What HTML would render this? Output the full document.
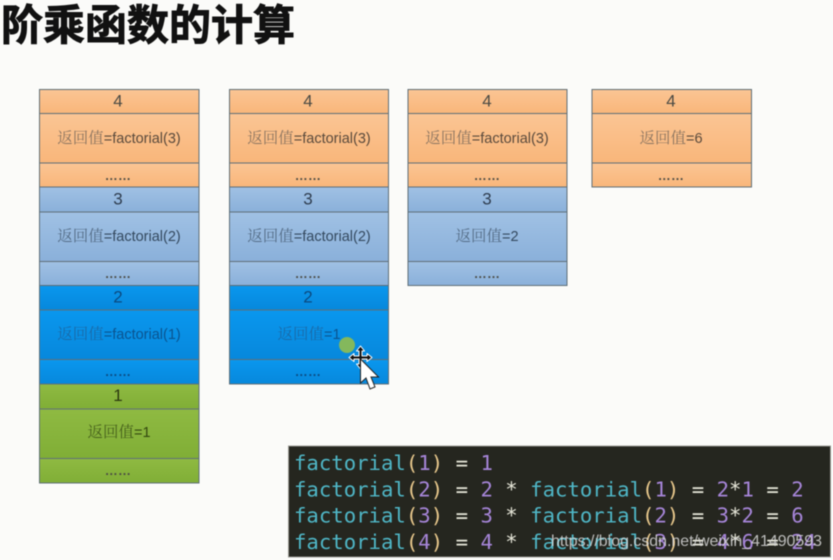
<!DOCTYPE html>
<html><head><meta charset="utf-8"><style>
html,body{margin:0;padding:0;width:833px;height:560px;overflow:hidden;background:#fbfbf9}
svg{display:block;filter:blur(.5px)}
text{font-family:"Liberation Sans","Noto Sans CJK SC",sans-serif}
.l{font-size:14.5px;text-anchor:middle}
.l tspan.z{font-family:"Noto Serif CJK SC",serif;font-size:15.5px}
.n{font-size:17px;text-anchor:middle}
.c{font-family:"DejaVu Sans Mono",monospace;font-size:20.65px;white-space:pre;font-weight:400}
.f{fill:#4fb6c6}.p{fill:#e8c88c}.v{fill:#a685d8}.o{fill:#e6e6d8}
</style></head><body>
<svg width="833" height="560" viewBox="0 0 833 560" xmlns="http://www.w3.org/2000/svg">
<defs>
<linearGradient id="og" x1="0" y1="0" x2="0" y2="1"><stop offset="0" stop-color="#fbc594"/><stop offset="1" stop-color="#f9b67a"/></linearGradient>
<linearGradient id="bl" x1="0" y1="0" x2="0" y2="1"><stop offset="0" stop-color="#a0c1e4"/><stop offset="1" stop-color="#8ab0da"/></linearGradient>
<linearGradient id="az" x1="0" y1="0" x2="0" y2="1"><stop offset="0" stop-color="#0a97ee"/><stop offset="1" stop-color="#0788dc"/></linearGradient>
<linearGradient id="gr" x1="0" y1="0" x2="0" y2="1"><stop offset="0" stop-color="#8fba42"/><stop offset="1" stop-color="#80ae36"/></linearGradient>
</defs>
<rect width="833" height="560" fill="#fbfbf9"/>
<text x="1" y="40" font-size="42" font-weight="700" fill="#111" stroke="#111" stroke-width=".9" style="font-family:'Noto Sans CJK SC',sans-serif">阶乘函数的计算</text>

<g stroke="#5f6f78" stroke-width="1">
<rect x="39.5" y="89.5" width="159.5" height="24" fill="url(#og)"/><rect x="39.5" y="113.5" width="159.5" height="49.5" fill="url(#og)"/><rect x="39.5" y="163" width="159.5" height="24" fill="url(#og)"/>
<rect x="39.5" y="187" width="159.5" height="25" fill="url(#bl)"/><rect x="39.5" y="212" width="159.5" height="49.5" fill="url(#bl)"/><rect x="39.5" y="261.5" width="159.5" height="24" fill="url(#bl)"/>
<rect x="39.5" y="285.5" width="159.5" height="24.5" fill="url(#az)"/><rect x="39.5" y="310" width="159.5" height="49.5" fill="url(#az)"/><rect x="39.5" y="359.5" width="159.5" height="24.5" fill="url(#az)"/>
<rect x="39.5" y="384" width="159.5" height="25" fill="url(#gr)"/><rect x="39.5" y="409" width="159.5" height="49.5" fill="url(#gr)"/><rect x="39.5" y="458.5" width="159.5" height="24.5" fill="url(#gr)"/>
<rect x="229.5" y="89.5" width="159" height="24" fill="url(#og)"/><rect x="229.5" y="113.5" width="159" height="49.5" fill="url(#og)"/><rect x="229.5" y="163" width="159" height="24" fill="url(#og)"/>
<rect x="229.5" y="187" width="159" height="25" fill="url(#bl)"/><rect x="229.5" y="212" width="159" height="49.5" fill="url(#bl)"/><rect x="229.5" y="261.5" width="159" height="24" fill="url(#bl)"/>
<rect x="229.5" y="285.5" width="159" height="24.5" fill="url(#az)"/><rect x="229.5" y="310" width="159" height="49.5" fill="url(#az)"/><rect x="229.5" y="359.5" width="159" height="24.5" fill="url(#az)"/>
<rect x="408" y="89.5" width="159" height="24" fill="url(#og)"/><rect x="408" y="113.5" width="159" height="49.5" fill="url(#og)"/><rect x="408" y="163" width="159" height="24" fill="url(#og)"/>
<rect x="408" y="187" width="159" height="25" fill="url(#bl)"/><rect x="408" y="212" width="159" height="49.5" fill="url(#bl)"/><rect x="408" y="261.5" width="159" height="24" fill="url(#bl)"/>
<rect x="592" y="89.5" width="159.5" height="24" fill="url(#og)"/><rect x="592" y="113.5" width="159.5" height="49.5" fill="url(#og)"/><rect x="592" y="163" width="159.5" height="24" fill="url(#og)"/>
</g>

<g>
<text class="n" x="118" y="106.500" fill="#4a4a44">4</text><text class="n" x="308" y="106.500" fill="#4a4a44">4</text><text class="n" x="487" y="106.500" fill="#4a4a44">4</text><text class="n" x="671" y="106.500" fill="#4a4a44">4</text>
<text class="n" x="118" y="204.500" fill="#2e3c4e">3</text><text class="n" x="308" y="204.500" fill="#2e3c4e">3</text><text class="n" x="487" y="204.500" fill="#2e3c4e">3</text>
<text class="n" x="118" y="302.500" fill="#0b4a80">2</text><text class="n" x="308" y="302.500" fill="#0b4a80">2</text>
<text class="n" x="118" y="401" fill="#2c3a10">1</text>
</g>
<g>
<text class="l" x="119" y="143" fill="#5a4a3c"><tspan class="z" fill="#8a7460">返回值</tspan>=factorial(3)</text>
<text class="l" x="309" y="143" fill="#5a4a3c"><tspan class="z" fill="#8a7460">返回值</tspan>=factorial(3)</text>
<text class="l" x="487" y="143" fill="#5a4a3c"><tspan class="z" fill="#8a7460">返回值</tspan>=factorial(3)</text>
<text class="l" x="671" y="143" fill="#5a4a3c"><tspan class="z" fill="#8a7460">返回值</tspan>=6</text>
<text class="l" x="119" y="241" fill="#34495f"><tspan class="z" fill="#546c86">返回值</tspan>=factorial(2)</text>
<text class="l" x="309" y="241" fill="#34495f"><tspan class="z" fill="#546c86">返回值</tspan>=factorial(2)</text>
<text class="l" x="487" y="241" fill="#34495f"><tspan class="z" fill="#546c86">返回值</tspan>=2</text>
<text class="l" x="119" y="339" fill="#0a5490"><tspan class="z" fill="#1a6aa8">返回值</tspan>=factorial(1)</text>
<text class="l" x="309" y="339" fill="#0a5490"><tspan class="z" fill="#1a6aa8">返回值</tspan>=1</text>
<text class="l" x="119" y="437" fill="#33480f"><tspan class="z" fill="#46601c">返回值</tspan>=1</text>
</g>
<g fill="#4a4a44" font-size="13" font-weight="700" letter-spacing=".2" text-anchor="middle">
<text x="118" y="180">……</text><text x="308" y="180">……</text><text x="487" y="180">……</text><text x="671" y="180">……</text>
<text x="118" y="278">……</text><text x="308" y="278">……</text><text x="487" y="278">……</text>
<text x="118" y="376" fill="#0b4a80">……</text><text x="308" y="376" fill="#0b4a80">……</text>
<text x="118" y="475">……</text>
</g>

<circle cx="347" cy="345" r="8" fill="#84b85c"/>
<path d="M360.500 346l4 5h-2.500v5h5v-2.500l5 4-5 4v-2.500h-5v5h2.500l-4 5-4-5h2.500v-5h-5v2.500l-5-4 5-4v2.500h5v-5h-2.500z" fill="#111" stroke="#fff" stroke-width="1" stroke-linejoin="round"/>
<path d="M360.500 359v24l5.500-5 4 11 5-2-4-10h7.500z" fill="#fff" stroke="#222" stroke-width="1"/>

<rect x="288.500" y="446" width="542" height="111" fill="#25261f" stroke="#9a9a94" stroke-width="1"/>
<text class="c" x="294" y="470"><tspan class="f">factorial</tspan><tspan class="p">(</tspan><tspan class="v">1</tspan><tspan class="p">)</tspan><tspan class="o"> = </tspan><tspan class="v">1</tspan></text>
<text class="c" x="294" y="496.500"><tspan class="f">factorial</tspan><tspan class="p">(</tspan><tspan class="v">2</tspan><tspan class="p">)</tspan><tspan class="o"> = </tspan><tspan class="v">2</tspan><tspan class="o"> * </tspan><tspan class="f">factorial</tspan><tspan class="p">(</tspan><tspan class="v">1</tspan><tspan class="p">)</tspan><tspan class="o"> = </tspan><tspan class="v">2</tspan><tspan class="o">*</tspan><tspan class="v">1</tspan><tspan class="o"> = </tspan><tspan class="v">2</tspan></text>
<text class="c" x="294" y="522.500"><tspan class="f">factorial</tspan><tspan class="p">(</tspan><tspan class="v">3</tspan><tspan class="p">)</tspan><tspan class="o"> = </tspan><tspan class="v">3</tspan><tspan class="o"> * </tspan><tspan class="f">factorial</tspan><tspan class="p">(</tspan><tspan class="v">2</tspan><tspan class="p">)</tspan><tspan class="o"> = </tspan><tspan class="v">3</tspan><tspan class="o">*</tspan><tspan class="v">2</tspan><tspan class="o"> = </tspan><tspan class="v">6</tspan></text>
<text class="c" x="294" y="549"><tspan class="f">factorial</tspan><tspan class="p">(</tspan><tspan class="v">4</tspan><tspan class="p">)</tspan><tspan class="o"> = </tspan><tspan class="v">4</tspan><tspan class="o"> * </tspan><tspan class="f">factorial</tspan><tspan class="p">(</tspan><tspan class="v">3</tspan><tspan class="p">)</tspan><tspan class="o"> = </tspan><tspan class="v">4</tspan><tspan class="o">*</tspan><tspan class="v">6</tspan><tspan class="o"> = </tspan><tspan class="v">24</tspan></text>
<text x="551" y="546" font-size="16" textLength="271" lengthAdjust="spacingAndGlyphs" fill="#d8d8d8" fill-opacity=".85">https://blog.csdn.net/weixin_41490593</text>
</svg>
</body></html>
